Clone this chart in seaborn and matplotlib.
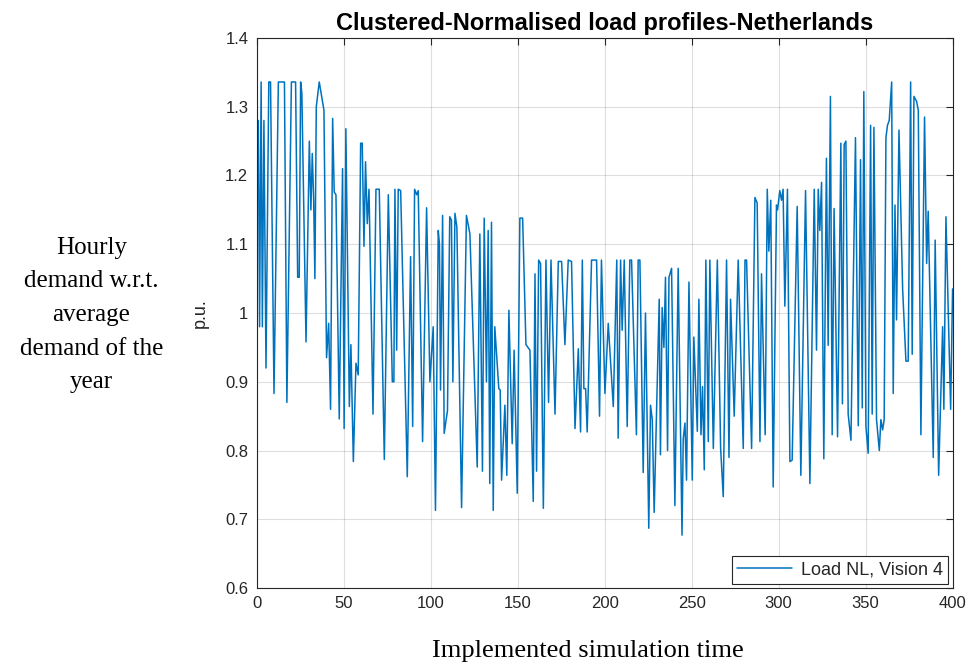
import numpy as np
import pandas as pd
import matplotlib.pyplot as plt
import seaborn as sns
from matplotlib.ticker import FuncFormatter

# vertici della curva (tempo, p.u.)
t = [0, 1, 1.7, 2.6, 3.3, 4.2, 5.4, 7, 8, 10, 12.5, 16, 17.4, 20, 22.4, 23.6, 24.5, 25.3, 26,
     28.4, 30.3, 31.2, 32, 32.8, 33.5, 34.3, 36, 38.7, 40.2, 41.4, 42.5, 43.7, 44.6, 45.6, 47.5,
     49.4, 50.3, 51.3, 53.3, 54.2, 55.6, 57.1, 58.4, 59.8, 60.7, 61.7, 62.6, 63.6, 64.6, 66.9,
     68.6, 70.5, 73.4, 75.7, 78, 78.9, 79.5, 80.5, 81.4, 82.8, 86.6, 88.5, 89.7, 90.8, 92, 92.9,
     95.4, 97.7, 99.6, 101.5, 102.8, 104.4, 105.1, 105.7, 106.9, 107.8, 109.7, 111, 112, 112.8,
     114, 115.1, 117.8, 120.6, 122.6, 126.8, 128.3, 129.8, 130.8, 132.1, 133.1, 134, 135, 136,
     136.9, 139.2, 140, 140.8, 142.7, 143.8, 145, 146.9, 148, 149.8, 151.3, 152.9, 154.8, 157.1,
     159, 160, 160.9, 162.1, 163.2, 164.8, 166.3, 167.8, 169.2, 171.5, 173.4, 175.3, 177.2,
     179.1, 181, 183, 184.9, 186.2, 187.2, 188.1, 189.1, 190, 192.5, 195.4, 197.1, 198.2, 200.2,
     202.1, 205, 207, 207.8, 209.2, 210.1, 211.3, 213, 214.5, 215.5, 218.3, 219.3, 220.3, 222.2,
     223.5, 225.4, 226.4, 227.4, 228.5, 231.4, 232.1, 233.1, 234.1, 235, 236.2, 237, 238.5,
     240.4, 242.3, 244.5, 245.2, 246.2, 247.1, 248.5, 250.4, 251.3, 253.3, 254.2, 255.4, 256.3,
     257.3, 258.2, 259.6, 260.5, 262.5, 264.8, 266.7, 268.2, 270.1, 271.5, 272.4, 274.5, 276.8,
     279.7, 280.7, 281.6, 284.5, 286.4, 287.7, 289.3, 290.2, 292.3, 293.5, 294.4, 295.5, 296.9,
     298.8, 299.4, 300.7, 301.7, 302.6, 303.6, 305.1, 306.5, 307.8, 310.7, 312.8, 315.5, 318,
     320.5, 321.8, 322.8, 323.7, 324.7, 326, 327.5, 328.5, 329.8, 330.8, 331.9, 333.9, 335.8,
     336.7, 337.7, 338.7, 340, 341.6, 344.2, 345.8, 347.1, 348.1, 349, 350.2, 351.5, 352.9,
     353.8, 354.8, 356.3, 357.9, 358.8, 359.8, 360.7, 361.7, 362.6, 363.6, 365, 365.9, 366.9,
     367.8, 369.2, 371.3, 373.2, 374.5, 375.9, 376.8, 377.8, 379.3, 380.3, 381.8, 383.9, 385.1,
     386, 388.9, 390, 392, 394.3, 395, 396.2, 398.9, 400]

load_nl = [1.17, 1.28, 0.98, 1.336, 0.98, 1.28, 0.92, 1.336, 1.336, 0.883, 1.336, 1.336, 0.87,
           1.336, 1.336, 1.052, 1.052, 1.336, 1.32, 0.958, 1.25, 1.15, 1.232, 1.164, 1.05, 1.3,
           1.336, 1.295, 0.935, 0.985, 0.86, 1.283, 1.176, 1.172, 0.846, 1.21, 0.832, 1.268,
           0.864, 0.954, 0.784, 0.927, 0.91, 1.247, 1.247, 1.097, 1.22, 1.13, 1.18, 0.853, 1.18,
           1.18, 0.787, 1.172, 0.9, 0.9, 1.18, 0.946, 1.18, 1.178, 0.762, 1.082, 0.835, 1.18,
           1.172, 1.178, 0.813, 1.153, 0.9, 0.98, 0.713, 1.12, 1.1, 0.888, 1.142, 0.825, 0.858,
           1.14, 1.135, 0.9, 1.145, 1.125, 0.717, 1.142, 1.115, 0.776, 1.115, 0.77, 1.138, 0.9,
           1.12, 0.752, 1.132, 0.713, 0.98, 0.89, 0.888, 0.757, 0.866, 0.764, 1.004, 0.81, 0.946,
           0.738, 1.138, 1.138, 0.954, 0.946, 0.726, 1.057, 0.77, 1.077, 1.072, 0.716, 1.077,
           0.87, 1.077, 0.853, 1.075, 1.075, 0.954, 1.077, 1.075, 0.832, 0.948, 0.827, 1.077,
           0.89, 0.89, 0.827, 1.077, 1.077, 0.85, 1.077, 0.883, 0.985, 0.864, 1.077, 0.818, 1.077,
           0.975, 1.077, 0.835, 1.077, 1.077, 0.823, 1.077, 1.077, 0.768, 1.0, 0.687, 0.866,
           0.845, 0.71, 1.02, 0.794, 1.008, 0.95, 1.052, 0.8, 1.052, 1.065, 0.72, 1.065, 0.677,
           0.817, 0.84, 0.757, 1.045, 0.757, 0.965, 0.828, 1.02, 0.823, 0.893, 0.772, 1.077,
           0.813, 1.077, 0.803, 1.077, 0.803, 0.733, 1.077, 0.79, 1.02, 0.85, 1.077, 0.803, 1.077,
           1.077, 0.803, 1.168, 1.16, 0.813, 1.057, 0.823, 1.18, 1.09, 1.164, 0.747, 1.157, 1.15,
           1.178, 1.164, 1.18, 1.01, 1.18, 0.784, 0.786, 1.155, 0.764, 1.178, 0.752, 1.18, 0.946,
           1.18, 1.12, 1.19, 0.788, 1.225, 0.953, 1.315, 0.823, 1.152, 0.82, 1.247, 0.868, 1.245,
           1.25, 0.853, 0.815, 1.255, 0.836, 1.223, 0.862, 1.322, 0.835, 0.796, 1.273, 0.853,
           1.27, 0.845, 0.8, 0.845, 0.83, 0.845, 1.255, 1.273, 1.28, 1.336, 0.883, 1.157, 0.99,
           1.266, 1.035, 0.93, 0.93, 1.336, 0.94, 1.315, 1.308, 1.295, 0.823, 1.285, 1.072, 1.148,
           0.79, 1.106, 0.764, 0.98, 0.86, 1.14, 0.86, 1.035]

x_ticks = [0, 50, 100, 150, 200, 250, 300, 350, 400]
y_ticks = [0.6, 0.7, 0.8, 0.9, 1.0, 1.1, 1.2, 1.3, 1.4]

df = pd.DataFrame({"tempo": t, "pu": load_nl})

sns.set_theme(style="whitegrid")
plt.rcParams["font.family"] = ["Liberation Sans", "DejaVu Sans"]

fig = plt.figure(figsize=(9.72, 6.66), dpi=100)
ax = fig.add_axes([0.264, 0.117, 0.716, 0.826])
ax.set_facecolor("white")

sns.lineplot(data=df, x="tempo", y="pu", ax=ax, color="#0072BD", linewidth=1.1,
             label="Load NL, Vision 4", sort=False, estimator=None)

ax.set_xlim(0, 400)
ax.set_ylim(0.6, 1.4)
ax.set_xticks(x_ticks)
ax.set_yticks(y_ticks)
ax.yaxis.set_major_formatter(FuncFormatter(lambda v, p: f"{v:g}"))
ax.grid(True, color="#262626", alpha=0.15, linewidth=0.8)
ax.tick_params(axis="both", which="both", direction="in", length=5, width=0.8,
               colors="#262626", labelsize=12, top=True, right=True,
               labeltop=False, labelright=False, pad=6)
for s in ax.spines.values():
    s.set_visible(True)
    s.set_color("#262626")
    s.set_linewidth(0.8)

ax.set_title("Clustered-Normalised load profiles-Netherlands", fontsize=17,
             fontweight="bold", color="black", pad=6)
ax.set_xlabel("")
ax.set_ylabel("p.u.", fontsize=13, color="#262626", labelpad=12)

leg = ax.legend(loc="lower right", fontsize=13, frameon=True, fancybox=False,
                handlelength=3.0, handletextpad=0.5, borderaxespad=0.25, borderpad=0.3)
leg.get_frame().set_edgecolor("#262626")
leg.get_frame().set_linewidth(0.8)
leg.get_frame().set_alpha(1)
for txt in leg.get_texts():
    txt.set_color("#262626")

# testi esterni (stile Times)
fig.text(0.094, 0.527, "Hourly\ndemand w.r.t.\naverage\ndemand of the\nyear",
         ha="center", va="center", fontsize=18, family="Liberation Serif",
         linespacing=1.68, color="black")
fig.text(0.605, 0.022, "Implemented simulation time", ha="center", va="center",
         fontsize=19, family="Liberation Serif", color="black")

plt.savefig("out.png", dpi=100, facecolor="white")
